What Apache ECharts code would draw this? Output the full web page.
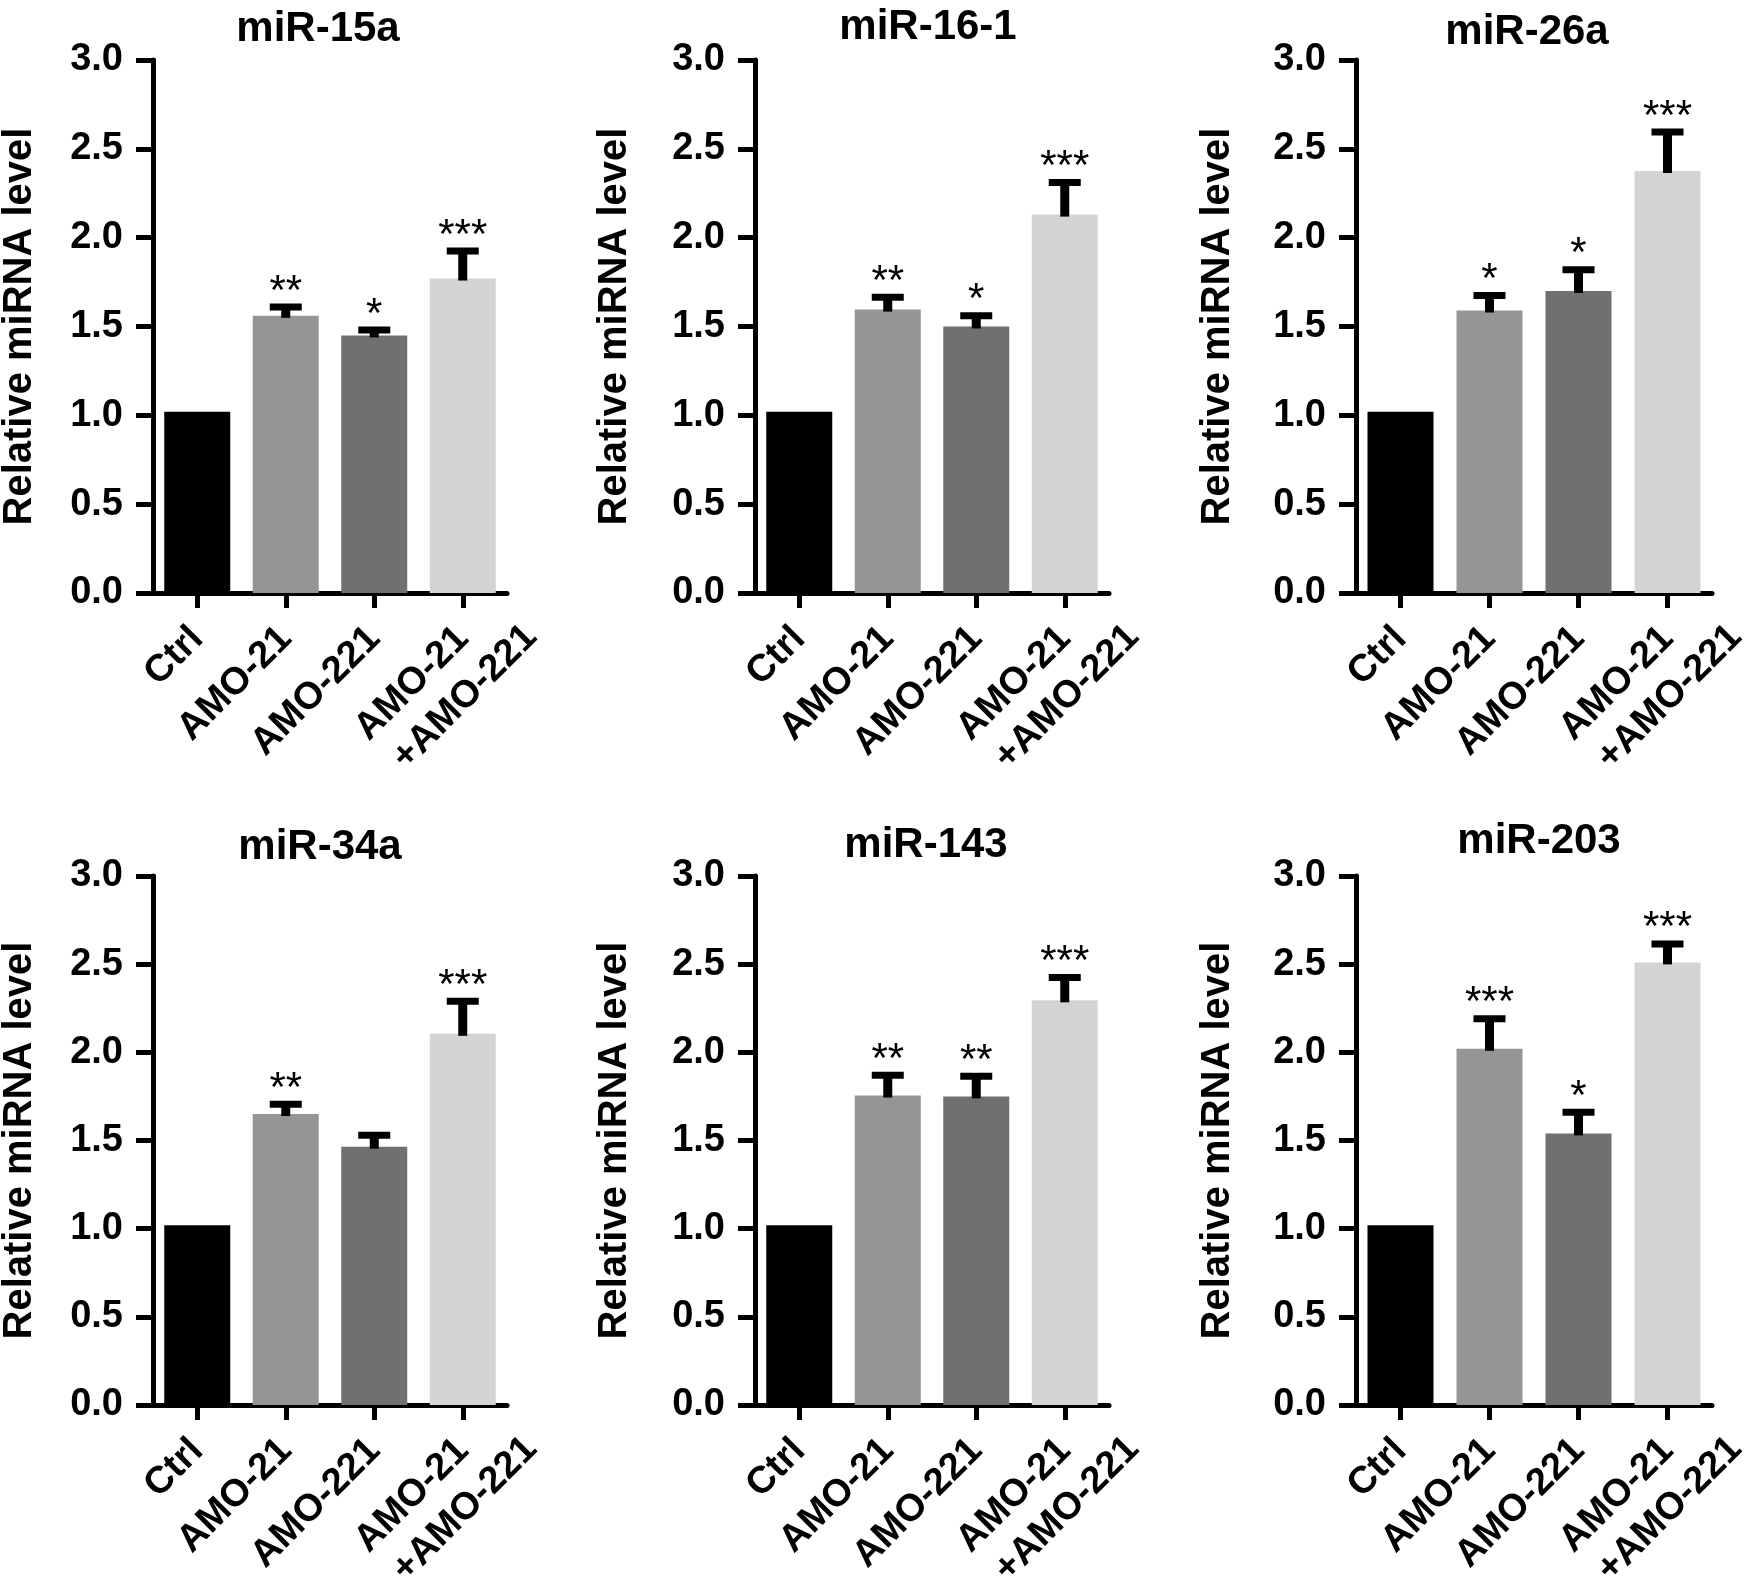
<!DOCTYPE html>
<html>
<head>
<meta charset="utf-8">
<script src="https://cdn.jsdelivr.net/npm/echarts@6.0.0/dist/echarts.min.js"></script>
<style>
html,body{margin:0;padding:0;background:#fff;}
#chart{width:1746px;height:1583px;}
</style>
</head>
<body>
<div id="chart"></div>
<script>
// ---------------- data ----------------
const categories = ['Ctrl', 'AMO-21', 'AMO-221', 'AMO-21\n+AMO-221'];
const panelTitles = ['miR-15a', 'miR-16-1', 'miR-26a', 'miR-34a', 'miR-143', 'miR-203'];
const yAxisTitle = 'Relative miRNA level';
const yMin = 0;
const yMax = 3;
const yStep = 0.5;

const mir15aMean = [1.02, 1.56, 1.45, 1.77];
const mir15aErr  = [0, 0.05, 0.03, 0.155];
const mir15aSig  = ['', '**', '*', '***'];

const mir161Mean = [1.02, 1.595, 1.50, 2.13];
const mir161Err  = [0, 0.07, 0.06, 0.18];
const mir161Sig  = ['', '**', '*', '***'];

const mir26aMean = [1.02, 1.59, 1.70, 2.375];
const mir26aErr  = [0, 0.085, 0.12, 0.22];
const mir26aSig  = ['', '*', '*', '***'];

const mir34aMean = [1.02, 1.65, 1.465, 2.105];
const mir34aErr  = [0, 0.055, 0.065, 0.185];
const mir34aSig  = ['', '**', '', '***'];

const mir143Mean = [1.02, 1.755, 1.75, 2.295];
const mir143Err  = [0, 0.115, 0.115, 0.13];
const mir143Sig  = ['', '**', '**', '***'];

const mir203Mean = [1.02, 2.02, 1.54, 2.51];
const mir203Err  = [0, 0.17, 0.12, 0.105];
const mir203Sig  = ['', '***', '*', '***'];

const panelMeans = [mir15aMean, mir161Mean, mir26aMean, mir34aMean, mir143Mean, mir203Mean];
const panelErrs  = [mir15aErr, mir161Err, mir26aErr, mir34aErr, mir143Err, mir203Err];
const panelSigs  = [mir15aSig, mir161Sig, mir26aSig, mir34aSig, mir143Sig, mir203Sig];

// ---------------- style / layout ----------------
const FONT = '"Liberation Sans", Arial, Helvetica, sans-serif';
const barColors = ['#000000', '#959595', '#707070', '#d3d3d3'];
const colLefts = [153, 755, 1356];
const colWidths = [354, 354, 356];
const rowTops = [60, 876];
const rowHeights = [533, 529];
const nameGaps = [113, 120, 118];
const titleCenters = [[318, 29], [928, 27], [1527, 32], [320, 847], [926, 845], [1539, 841]];
const TITLE_SIZE = 42;
const LABEL_SIZE = 38;
const TICK_SIZE = 38;
const NAME_SIZE = 40;
const STAR_SIZE = 42;
const LINE_H2 = 47;

const richStyle = {
  a: { fontSize: LABEL_SIZE, fontWeight: 'bold', fontFamily: FONT, color: '#000', align: 'left', lineHeight: LINE_H2 },
  s: { fontSize: LABEL_SIZE, fontFamily: FONT, width: 6, align: 'left', lineHeight: LINE_H2 }
};

function labelFormatter(value) {
  const lines = String(value).split('\n');
  if (lines.length < 2) return value;
  return '{a|' + lines[0] + '}\n{s| }{a|' + lines[1] + '}';
}

function xAxisData() {
  return categories.map(function (c) {
    if (c.indexOf('\n') < 0) return c;
    return { value: c, textStyle: { align: 'center', padding: [LINE_H2, 94, 0, 0] } };
  });
}

function makeErrorRender(sigList) {
  return function (params, api) {
    const cat = api.value(0);
    const mean = api.value(1);
    const err = api.value(2);
    const base = api.coord([cat, mean]);
    const tip = api.coord([cat, mean + err]);
    const children = [];
    if (err > 0) {
      children.push({ type: 'line', shape: { x1: base[0], y1: base[1] + 2, x2: base[0], y2: tip[1] },
        style: { stroke: '#000', lineWidth: 9 } });
      children.push({ type: 'line', shape: { x1: base[0] - 16, y1: tip[1], x2: base[0] + 16, y2: tip[1] },
        style: { stroke: '#000', lineWidth: 7 } });
    }
    const s = sigList[params.dataIndex];
    if (s) {
      children.push({ type: 'text', style: { text: s, x: base[0], y: tip[1] - 15,
        align: 'center', verticalAlign: 'middle', fontSize: STAR_SIZE, fontFamily: FONT,
        fontWeight: 'normal', fill: '#000' } });
    }
    return { type: 'group', children: children };
  };
}

const grids = [], xAxes = [], yAxes = [], series = [], titles = [];
for (let i = 0; i < 6; i++) {
  const col = i % 3, row = Math.floor(i / 3);
  grids.push({ left: colLefts[col], top: rowTops[row], width: colWidths[col], height: rowHeights[row],
    containLabel: false, outerBoundsMode: 'none' });
  xAxes.push({
    type: 'category', gridIndex: i, data: xAxisData(),
    axisLine: { show: true, lineStyle: { color: '#000', width: 5 } },
    axisTick: { show: true, alignWithLabel: true, interval: 0, length: 15, lineStyle: { color: '#000', width: 5 } },
    axisLabel: { interval: 0, rotate: 45, margin: 40, fontSize: LABEL_SIZE, fontWeight: 'bold', fontFamily: FONT,
      color: '#000', formatter: labelFormatter, rich: richStyle },
    splitLine: { show: false }
  });
  yAxes.push({
    type: 'value', gridIndex: i, min: yMin, max: yMax, interval: yStep,
    name: yAxisTitle, nameLocation: 'middle', nameGap: nameGaps[col], nameRotate: 90, nameMoveOverlap: false,
    nameTextStyle: { fontSize: NAME_SIZE, fontWeight: 'bold', fontFamily: FONT, color: '#000' },
    axisLine: { show: true, lineStyle: { color: '#000', width: 5 } },
    axisTick: { show: true, length: 17, lineStyle: { color: '#000', width: 5 } },
    axisLabel: { margin: 30, fontSize: TICK_SIZE, fontWeight: 'bold', fontFamily: FONT, color: '#000',
      formatter: function (v) { return v.toFixed(1); } },
    splitLine: { show: false }
  });
  series.push({
    type: 'bar', xAxisIndex: i, yAxisIndex: i, barWidth: 66, z: 1,
    data: panelMeans[i].map(function (v, k) { return { value: v, itemStyle: { color: barColors[k] } }; }),
    emphasis: { disabled: true }
  });
  series.push({
    type: 'custom', xAxisIndex: i, yAxisIndex: i, z: 5, clip: false,
    renderItem: makeErrorRender(panelSigs[i]),
    data: panelMeans[i].map(function (v, k) { return [k, v, panelErrs[i][k]]; })
  });
  titles.push({
    text: panelTitles[i], left: titleCenters[i][0], top: titleCenters[i][1] - TITLE_SIZE / 2,
    textAlign: 'center', padding: 0,
    textStyle: { fontSize: TITLE_SIZE, fontWeight: 'bold', fontFamily: FONT, color: '#000' }
  });
}

const chart = echarts.init(document.getElementById('chart'), null, { renderer: 'canvas' });
chart.setOption({
  backgroundColor: '#ffffff',
  animation: false,
  title: titles,
  grid: grids,
  xAxis: xAxes,
  yAxis: yAxes,
  series: series
});
</script>
</body>
</html>
